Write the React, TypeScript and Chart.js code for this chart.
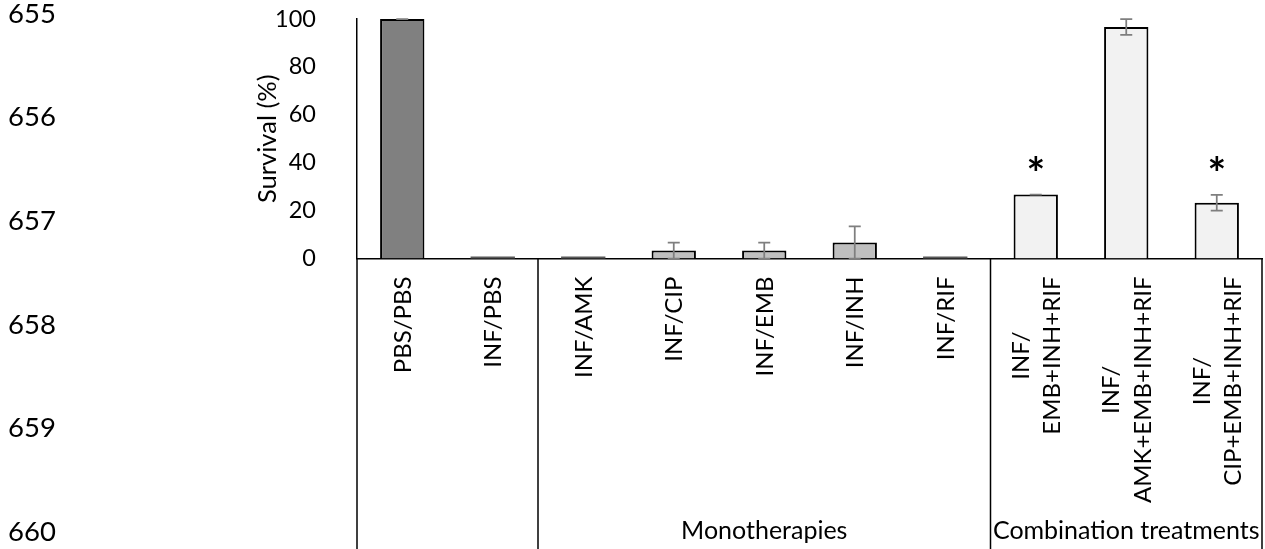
import React, { useEffect, useRef } from "react";
import { Chart, registerables } from "chart.js";

Chart.register(...registerables);

const lineNumbers = ["655", "656", "657", "658", "659", "660"];
const categories: string[][] = [
  ["PBS/PBS"],
  ["INF/PBS"],
  ["INF/AMK"],
  ["INF/CIP"],
  ["INF/EMB"],
  ["INF/INH"],
  ["INF/RIF"],
  ["INF/", "EMB+INH+RIF"],
  ["INF/", "AMK+EMB+INH+RIF"],
  ["INF/", "CIP+EMB+INH+RIF"],
];
const survival = [100, 0, 0, 3.3, 3.3, 6.7, 0, 26.7, 96.7, 23.3];
const errors = [0, 0, 0, 3.3, 3.3, 6.7, 0, 0, 3.3, 3.3];
const significant = [false, false, false, false, false, false, false, true, false, true];
const barColors = [
  "#808080", "#808080",
  "#bfbfbf", "#bfbfbf", "#bfbfbf", "#bfbfbf", "#bfbfbf",
  "#f2f2f2", "#f2f2f2", "#f2f2f2",
];
const groupLabels = ["", "Monotherapies", "Combination treatments"];
const groupStarts = [0, 2, 7];
const groupEnds = [1, 6, 9];
const yTickValues = [0, 20, 40, 60, 80, 100];

const FONT = "Lato";

const overlayPlugin = {
  id: "overlay",
  afterDatasetsDraw(chart: any) {
    const ctx = chart.ctx;
    const meta = chart.getDatasetMeta(0);
    const y = chart.scales.y;
    ctx.save();
    meta.data.forEach((bar: any, i: number) => {
      const cx = bar.x;
      if (survival[i] === 0) {
        ctx.strokeStyle = "#595959";
        ctx.lineWidth = 2;
        ctx.beginPath();
        ctx.moveTo(cx - bar.width / 2, y.getPixelForValue(0) - 1);
        ctx.lineTo(cx + bar.width / 2, y.getPixelForValue(0) - 1);
        ctx.stroke();
        return;
      }
      const top = y.getPixelForValue(survival[i] + errors[i]);
      const bot = y.getPixelForValue(Math.max(0, survival[i] - errors[i]));
      ctx.strokeStyle = "#7f7f7f";
      ctx.lineWidth = 1.75;
      ctx.beginPath();
      ctx.moveTo(cx, top);
      ctx.lineTo(cx, bot);
      ctx.moveTo(cx - 6, top);
      ctx.lineTo(cx + 6, top);
      ctx.moveTo(cx - 6, bot);
      ctx.lineTo(cx + 6, bot);
      ctx.stroke();
      if (significant[i]) {
        ctx.fillStyle = "#000";
        ctx.font = `bold 44px ${FONT}`;
        ctx.textAlign = "center";
        ctx.textBaseline = "alphabetic";
        ctx.fillText("*", cx, top - 31 + 25);
      }
    });
    ctx.restore();
  },
  afterDraw(chart: any) {
    const ctx = chart.ctx;
    const x = chart.scales.x;
    const area = chart.chartArea;
    const step = (area.right - area.left) / categories.length;
    const H = chart.height;
    ctx.save();
    ctx.strokeStyle = "#000";
    ctx.lineWidth = 1.5;
    const bounds: number[] = [];
    groupStarts.forEach((s, gi) => {
      bounds.push(x.getPixelForValue(s) - step / 2);
      if (gi === groupStarts.length - 1) bounds.push(x.getPixelForValue(groupEnds[gi]) + step / 2);
    });
    bounds.forEach((bx) => {
      ctx.beginPath();
      ctx.moveTo(bx, area.bottom);
      ctx.lineTo(bx, H);
      ctx.stroke();
    });
    ctx.fillStyle = "#000";
    ctx.font = `25px ${FONT}`;
    ctx.textAlign = "center";
    ctx.textBaseline = "middle";
    groupLabels.forEach((g, gi) => {
      if (!g) return;
      const c = (bounds[gi] + bounds[gi + 1]) / 2;
      ctx.fillText(g, c, 531);
    });
    ctx.font = `24px ${FONT}`;
    const lineH = 31.5;
    categories.forEach((lines, i) => {
      const cx = x.getPixelForValue(i);
      const w = Math.max(...lines.map((l) => ctx.measureText(l).width));
      const cy = area.bottom + 18 + w / 2;
      ctx.save();
      ctx.translate(cx, cy);
      ctx.rotate(-Math.PI / 2);
      ctx.textAlign = "center";
      ctx.textBaseline = "middle";
      lines.forEach((l, li) => {
        const off = (li - (lines.length - 1) / 2) * lineH;
        ctx.fillText(l, 0, off + 1);
      });
      ctx.restore();
    });
    ctx.font = `27.5px ${FONT}`;
    ctx.textAlign = "left";
    ctx.textBaseline = "middle";
    lineNumbers.forEach((n, i) => {
      ctx.fillText(n, 8, 14 + i * 103.6);
    });
    ctx.restore();
  },
};

export default function App() {
  const ref = useRef<HTMLCanvasElement | null>(null);
  useEffect(() => {
    if (!ref.current) return;
    const chart = new Chart(ref.current, {
      type: "bar",
      data: {
        labels: categories.map((c) => c.join(" ")),
        datasets: [
          {
            data: survival,
            backgroundColor: barColors,
            borderColor: "#000",
            borderWidth: 2,
            categoryPercentage: 1,
            barPercentage: 0.49,
          },
        ],
      },
      options: {
        responsive: false,
        animation: false,
        layout: { padding: { top: 19, right: 3, bottom: 290.5, left: 0 } },
        plugins: { legend: { display: false }, tooltip: { enabled: false } },
        scales: {
          x: {
            type: "category",
            grid: { display: false, drawTicks: false },
            ticks: { display: false },
            border: { display: true, color: "#000", width: 1.5 },
            afterFit: (s: any) => {
              s.height = 0;
            },
          },
          y: {
            min: 0,
            max: 100,
            grid: { display: false, drawTicks: false },
            border: { display: true, color: "#000", width: 1.5 },
            afterBuildTicks: (s: any) => {
              s.ticks = yTickValues.map((v) => ({ value: v }));
            },
            ticks: {
              padding: 41,
              color: "#000",
              font: { family: FONT, size: 23.5 },
            },
            title: {
              display: true,
              text: "Survival (%)",
              color: "#000",
              font: { family: FONT, size: 25.5 },
              padding: { top: 252.7, bottom: 0 },
            },
            afterFit: (s: any) => {
              s.width = 357;
              s.paddingTop = 12;
              s.paddingBottom = 12;
            },
          },
        },
      },
      plugins: [overlayPlugin],
    });
    return () => chart.destroy();
  }, []);
  return (
    <div style={{ position: "absolute", left: 0, top: 0, width: 1265, height: 549, background: "#fff" }}>
      <canvas ref={ref} width={1265} height={549} />
    </div>
  );
}
